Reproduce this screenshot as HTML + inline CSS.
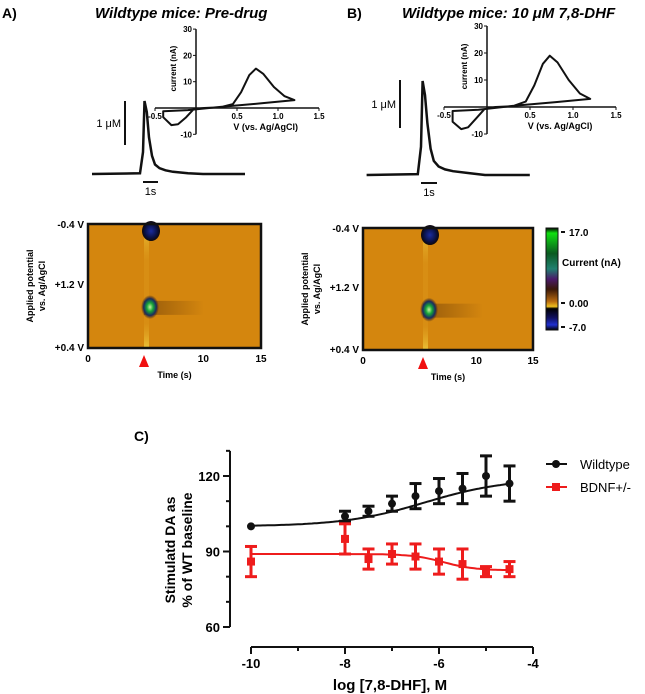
<!DOCTYPE html>
<html><head><meta charset="utf-8"><style>
body{margin:0;background:#fff;}
svg{display:block;font-family:"Liberation Sans",sans-serif;font-weight:bold;}
</style></head><body>
<svg id="fig" width="645" height="694" viewBox="0 0 645 694">
<defs>
<radialGradient id="gblob"><stop offset="0" stop-color="#c8f0a0"/><stop offset="0.35" stop-color="#18a838"/><stop offset="0.7" stop-color="#1a2a60"/><stop offset="1" stop-color="#3a2010" stop-opacity="0"/></radialGradient>
<radialGradient id="bblob"><stop offset="0" stop-color="#1a2ca0"/><stop offset="0.7" stop-color="#0a1040"/><stop offset="1" stop-color="#100808"/></radialGradient>
<linearGradient id="cbar" x1="0" y1="0" x2="0" y2="1">
<stop offset="0" stop-color="#000"/><stop offset="0.05" stop-color="#10e010"/><stop offset="0.25" stop-color="#0a5a20"/><stop offset="0.4" stop-color="#208070"/><stop offset="0.5" stop-color="#4a1a6a"/><stop offset="0.6" stop-color="#3a1808"/><stop offset="0.72" stop-color="#b86a10"/><stop offset="0.77" stop-color="#f0c020"/><stop offset="0.79" stop-color="#000"/><stop offset="0.88" stop-color="#101060"/><stop offset="0.95" stop-color="#2030d0"/><stop offset="1" stop-color="#000"/></linearGradient>
<linearGradient id="trail" x1="0" y1="0" x2="1" y2="0"><stop offset="0" stop-color="#5a3008" stop-opacity="0.5"/><stop offset="1" stop-color="#5a3008" stop-opacity="0"/></linearGradient>
<linearGradient id="stripe" x1="0" y1="0" x2="0" y2="1"><stop offset="0" stop-color="#f0d040" stop-opacity="0.8"/><stop offset="0.3" stop-color="#e0a020" stop-opacity="0.3"/><stop offset="0.8" stop-color="#e0a020" stop-opacity="0.3"/><stop offset="1" stop-color="#f0d040" stop-opacity="0.8"/></linearGradient>
</defs>
<g id="topPanels"></g>
<g id="chartC"></g>
</svg>
<script>
// Panel C data
const xVals = [-10, -8, -7.5, -7, -6.5, -6, -5.5, -5, -4.5];
const wtMean = [100, 104, 106, 109, 112, 114, 115, 120, 117];
const wtErr = [0, 2, 2, 3, 5, 5, 6, 8, 7];
const bdMean = [86, 95, 87, 89, 88, 86, 85, 82, 83];
const bdErr = [6, 6, 4, 4, 5, 5, 6, 2, 3];
const xTicks = [-10, -8, -6, -4];
const yTicks = [60, 90, 120];
// CV data (V, nA)
const cvV = [-0.4, -0.3, -0.22, -0.12, -0.03, 0.1, 0.3, 0.45, 0.55, 0.65, 0.73, 0.82, 0.95, 1.08, 1.2, 0.8, 0.3, -0.1, -0.4];
const cvA = [-3.5, -6.5, -6.2, -3.5, -0.5, 0, 0.3, 1.5, 6, 12.5, 15, 13, 8, 4.5, 3, 1.8, 0.4, -0.8, -1.2];
const cvB = [-5.5, -8.2, -7.5, -4, -0.8, 0, 0.3, 2, 8, 16, 19, 16.5, 10, 5, 3, 1.8, 0.4, -1, -1.5];
// Trace data: time (s) and relative concentration
const trT = [-3.4, -0.2, 0, 0.1, 0.25, 0.4, 0.6, 0.8, 1.1, 1.5, 2, 3, 4, 6.8];
const trA = [0, 0.01, 0.3, 1.0, 0.85, 0.5, 0.25, 0.13, 0.08, 0.05, 0.03, 0.01, 0, 0];
const trB = [0, 0.01, 0.3, 1.0, 0.85, 0.55, 0.28, 0.15, 0.09, 0.06, 0.04, 0.02, 0, 0];

const NS = "http://www.w3.org/2000/svg";
function el(tag, attrs, parent, txt){const e=document.createElementNS(NS,tag);for(const k in attrs)e.setAttribute(k,attrs[k]);if(txt!==undefined)e.textContent=txt;parent.appendChild(e);return e;}
const topG = document.getElementById('topPanels');
const C = document.getElementById('chartC');

function panel(o){
  const g = el('g',{},topG);
  
  
  let t = el('text',{x:o.lx,y:18,'font-size':14},g,o.letter);
  
  
  t = el('text',{x:o.tx,y:18,'font-size':15,'font-style':'italic'},g,o.title);
  
  
  const tx = s => o.stimX + s*o.secPx;
  const ty = c => o.base - c*(o.base-o.peakY);
  let d=''; const tr=o.tr;
  for(let i=0;i<trT.length;i++) d+=(i?'L':'M')+tx(trT[i]).toFixed(1)+','+ty(tr[i]).toFixed(1);
  const p=el('path',{d:d,fill:'none',stroke:'#111','stroke-width':2.5},g);
  
  
  let sb=el('line',{x1:o.sbX,x2:o.sbX,y1:o.sbY1,y2:o.sbY2,stroke:'#111','stroke-width':2},g);
  
  
  t=el('text',{x:o.sbX-4,y:(o.sbY1+o.sbY2)/2+4,'font-size':11,'font-weight':'normal','text-anchor':'end'},g,'1 μM');
  
  
  sb=el('line',{x1:tx(0),x2:tx(1),y1:o.base+8,y2:o.base+8,stroke:'#111','stroke-width':2},g);
  
  
  t=el('text',{x:tx(0.5),y:o.base+21,'font-size':11,'font-weight':'normal','text-anchor':'middle'},g,'1s');
  
  
  const vx = v => o.cx0 + v*o.vPx;
  const cy = a => o.cy0 - a*o.aPx;
  const ax=el('g',{},g);
  
  
  el('line',{x1:vx(0),x2:vx(0),y1:cy(30),y2:cy(-10),stroke:'#111','stroke-width':1.5},ax);
  el('line',{x1:vx(-0.5),x2:vx(1.5),y1:cy(0),y2:cy(0),stroke:'#111','stroke-width':1.5},ax);
  [30,20,10,-10].forEach(v=>{el('line',{x1:vx(0)-3,x2:vx(0),y1:cy(v),y2:cy(v),stroke:'#111'},ax);
    el('text',{x:vx(0)-4,y:cy(v)+3,'font-size':8,'text-anchor':'end'},ax,String(v));});
  [-0.5,0.5,1.0,1.5].forEach(v=>{el('line',{x1:vx(v),x2:vx(v),y1:cy(0),y2:cy(0)+3,stroke:'#111'},ax);
    el('text',{x:vx(v),y:cy(0)+11,'font-size':8,'text-anchor':'middle'},ax,v.toFixed(1));});
  t=el('text',{x:0,y:0,'font-size':8,'text-anchor':'middle',transform:`translate(${vx(0)-20},${cy(15)}) rotate(-90)`},g,'current (nA)');
  
  
  t=el('text',{x:vx(0.85),y:cy(0)+22,'font-size':9,'text-anchor':'middle'},g,'V (vs. Ag/AgCl)');
  
  
  d=''; for(let i=0;i<cvV.length;i++) d+=(i?'L':'M')+vx(cvV[i]).toFixed(1)+','+cy(o.cv[i]).toFixed(1);
  const cp=el('path',{d:d+'Z',fill:'none',stroke:'#111','stroke-width':2,'stroke-linejoin':'round'},g);
  
  
  const P=o.cp;
  const cg=el('g',{},g);
  
  
  el('rect',{x:P.x0,y:P.y0,width:P.x1-P.x0,height:P.y1-P.y0,fill:'#d4860e'},cg);
  el('rect',{x:P.sx,y:P.y0,width:5,height:P.y1-P.y0,fill:'url(#stripe)'},cg);
  el('rect',{x:P.sx,y:P.y0+(P.y1-P.y0)*0.62,width:60,height:14,fill:'url(#trail)'},cg);
  el('ellipse',{cx:P.sx+6,cy:P.y0+(P.y1-P.y0)*0.67,rx:9,ry:12,fill:'url(#gblob)'},cg);
  el('ellipse',{cx:P.sx+7,cy:P.y0+7,rx:9,ry:10,fill:'url(#bblob)'},cg);
  el('rect',{x:P.x0,y:P.y0,width:P.x1-P.x0,height:P.y1-P.y0,fill:'none',stroke:'#111','stroke-width':2.5},cg);
  [['-0.4 V',P.y0+4],['+1.2 V',(P.y0+P.y1)/2+2],['+0.4 V',P.y1+3]].forEach(a=>el('text',{x:P.x0-4,y:a[1],'font-size':10,'text-anchor':'end'},cg,a[0]));
  const tp=s=>P.x0+s*(P.x1-P.x0)/15;
  [0,10,15].forEach(s=>el('text',{x:tp(s),y:P.y1+14,'font-size':10,'text-anchor':'middle'},cg,String(s)));
  const ar=el('path',{d:`M${P.sx-5},${P.y1+19}L${P.sx+5},${P.y1+19}L${P.sx},${P.y1+7}Z`,fill:'#f01010'},g);
  
  
  t=el('text',{x:tp(7.5),y:P.y1+30,'font-size':9,'text-anchor':'middle'},g,'Time (s)');
  
  
  const yt=el('text',{'font-size':9,'text-anchor':'middle',transform:`translate(${P.x0-55},${(P.y0+P.y1)/2}) rotate(-90)`},g);
  
  
  el('tspan',{x:0,y:0},yt,'Applied potential');
  el('tspan',{x:0,y:12},yt,'vs. Ag/AgCl');
  return g;
}
panel({id:'a',letter:'A)',lx:2,tx:95,title:'Wildtype mice: Pre-drug',stimX:143,secPx:15,base:174,peakY:101,tr:trA,sbX:125,sbY1:101,sbY2:145,cx0:196,cy0:108,vPx:82,aPx:2.63,cv:cvA,
  cp:{x0:88,x1:261,y0:224,y1:348,sx:144}});
panel({id:'b',letter:'B)',lx:347,tx:402,title:'Wildtype mice: 10 μM 7,8-DHF',stimX:421,secPx:16,base:175,peakY:81,tr:trB,sbX:400,sbY1:80,sbY2:128,cx0:487,cy0:107,vPx:86,aPx:2.7,cv:cvB,
  cp:{x0:363,x1:533,y0:228,y1:350,sx:423}});
const cb=el('g',{},topG);


el('rect',{x:546,y:228,width:12,height:102,fill:'url(#cbar)',stroke:'#111','stroke-width':1},cb);
[['17.0',233],['0.00',304],['-7.0',328]].forEach(a=>{el('line',{x1:561,x2:565,y1:a[1]-1,y2:a[1]-1,stroke:'#111','stroke-width':2},cb);el('text',{x:569,y:a[1]+3,'font-size':10},cb,a[0]);});
el('text',{x:562,y:266,'font-size':10},cb,'Current (nA)');

// Panel C
const X = v => 251 + (v+10)*47;
const Y = v => 627 - (v-60)*(151/60);
let t=el('text',{x:134,y:441,'font-size':14},C,'C)');


const axY=el('g',{},C);


el('line',{x1:230,x2:230,y1:Y(130),y2:Y(60),stroke:'#111','stroke-width':2},axY);
for(let v=60;v<=130;v+=10){const big=yTicks.includes(v);el('line',{x1:big?223:226,x2:230,y1:Y(v),y2:Y(v),stroke:'#111','stroke-width':2},axY);}
yTicks.forEach(v=>el('text',{x:220,y:Y(v)+5,'font-size':13,'text-anchor':'end'},axY,String(v)));
const axX=el('g',{},C);


el('line',{x1:X(-10),x2:X(-4),y1:647,y2:647,stroke:'#111','stroke-width':2},axX);
for(let v=-10;v<=-4;v+=1){const big=xTicks.includes(v);el('line',{x1:X(v),x2:X(v),y1:647,y2:big?654:651,stroke:'#111','stroke-width':2},axX);}
xTicks.forEach(v=>el('text',{x:X(v),y:668,'font-size':13,'text-anchor':'middle'},axX,String(v)));
t=el('text',{x:390,y:690,'font-size':15,'text-anchor':'middle'},C,'log [7,8-DHF], M');


const yt=el('text',{'font-size':14,'text-anchor':'middle',transform:'translate(175,550) rotate(-90)'},C);


el('tspan',{x:0,y:0},yt,'Stimulatd DA as');
el('tspan',{x:0,y:17},yt,'% of WT baseline');

function fitPath(bot,topv,mid,slope){let d='';for(let x=-10;x<=-4.5+0.0001;x+=0.05){const y=bot+(topv-bot)/(1+Math.pow(10,(mid-x)*slope));d+=(d?'L':'M')+X(x).toFixed(1)+','+Y(y).toFixed(1);}return d;}
function series(name,mean,err,color,fit,sq){
  const g=el('g',{},C);
  
  
  const f=el('path',{d:fit,fill:'none',stroke:color,'stroke-width':2},g);
  
  
  xVals.forEach((x,i)=>{
    if(err[i]>0){el('line',{x1:X(x),x2:X(x),y1:Y(mean[i]+err[i]),y2:Y(mean[i]-err[i]),stroke:color,'stroke-width':3},g);
      [mean[i]+err[i],mean[i]-err[i]].forEach(v=>el('line',{x1:X(x)-6,x2:X(x)+6,y1:Y(v),y2:Y(v),stroke:color,'stroke-width':3},g));}
    const m = sq?el('rect',{x:X(x)-4,y:Y(mean[i])-4,width:8,height:8,fill:color},g):el('circle',{cx:X(x),cy:Y(mean[i]),r:4,fill:color},g);
    
    
  });
}
series('wildtype',wtMean,wtErr,'#111',fitPath(100,119,-6.3,0.5),false);
series('bdnf',bdMean,bdErr,'#ee1c1c',fitPath(82.5,89,-5.9,-1.3),true);
const lg=el('g',{},C);


el('line',{x1:546,x2:567,y1:464,y2:464,stroke:'#111','stroke-width':2},lg);
el('circle',{cx:556,cy:464,r:4,fill:'#111'},lg);
el('text',{x:580,y:469,'font-size':13,'font-weight':'normal'},lg,'Wildtype');
el('line',{x1:546,x2:567,y1:487,y2:487,stroke:'#ee1c1c','stroke-width':2},lg);
el('rect',{x:552,y:483,width:8,height:8,fill:'#ee1c1c'},lg);
el('text',{x:580,y:492,'font-size':13,'font-weight':'normal'},lg,'BDNF+/-');
</script>
</body></html>
